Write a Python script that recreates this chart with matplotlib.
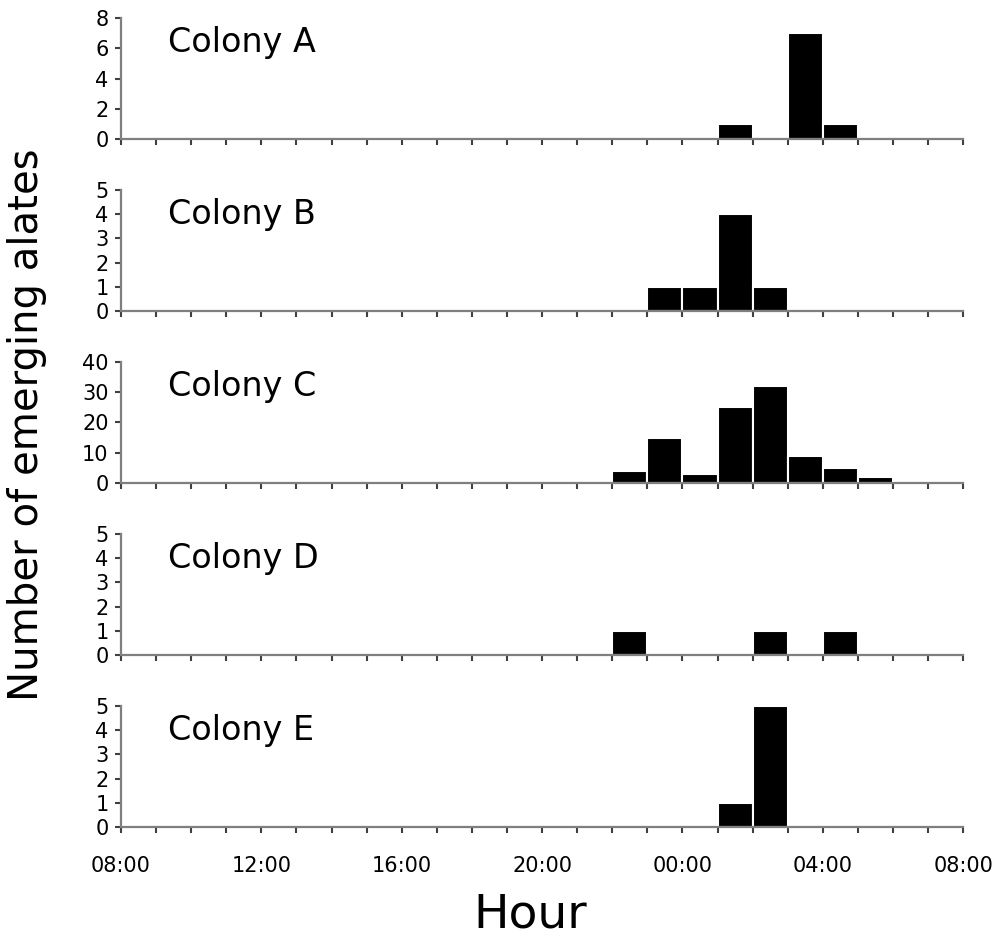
import numpy as np
import matplotlib
matplotlib.use("Agg")
import matplotlib.pyplot as plt

# hourly bins starting at 08:00
bin_hours = ['%02d:00' % ((8 + i) % 24) for i in range(24)]

colonies = ['Colony A', 'Colony B', 'Colony C', 'Colony D', 'Colony E']
# counts for bins 22:00 .. 05:00 (all other bins are zero)
night_bins = ['22:00', '23:00', '00:00', '01:00', '02:00', '03:00', '04:00', '05:00']
colony_a = [0, 0, 0, 1, 0, 7, 1, 0]
colony_b = [0, 1, 1, 4, 1, 0, 0, 0]
colony_c = [4, 15, 3, 25, 32, 9, 5, 2]
colony_d = [1, 0, 0, 0, 1, 0, 1, 0]
colony_e = [0, 0, 0, 1, 5, 0, 0, 0]
series = [colony_a, colony_b, colony_c, colony_d, colony_e]

ymax = [8, 5, 40, 5, 5]
ystep = [2, 1, 10, 1, 1]

xtick_labels = ['08:00', '12:00', '16:00', '20:00', '00:00', '04:00', '08:00']

fig = plt.figure(figsize=(9.96, 9.40), dpi=100)
bottoms = [0.8521, 0.6691, 0.4862, 0.3032, 0.1202]
grey = '#7f7f7f'

for k, name in enumerate(colonies):
    ax = fig.add_axes([0.1215, bottoms[k], 0.8455, 0.1287])
    counts = np.zeros(len(bin_hours))
    for lab, v in zip(night_bins, series[k]):
        counts[bin_hours.index(lab)] = v
    x = np.arange(len(bin_hours))
    ax.bar(x, counts, width=1.0, align='edge', color='black',
           edgecolor='white', linewidth=1.5, zorder=2)
    ax.set_xlim(0, 24)
    ax.set_ylim(0, ymax[k])
    ax.set_yticks(np.arange(0, ymax[k] + 1, ystep[k]))
    ax.set_xticks(np.arange(0, 25, 1))
    if k == 4:
        ax.set_xticks(np.arange(0, 25, 4))
        ax.set_xticks(np.arange(0, 25, 1), minor=True)
        ax.set_xticklabels(xtick_labels)
        ax.tick_params(axis='x', which='major', pad=17)
    else:
        ax.set_xticklabels([])
    for s in ['top', 'right']:
        ax.spines[s].set_visible(False)
    for s in ['left', 'bottom']:
        ax.spines[s].set_color(grey)
        ax.spines[s].set_linewidth(1.6)
        ax.spines[s].set_zorder(3)
    ax.tick_params(axis='both', which='both', direction='out', length=4,
                   width=1.5, color='#404040', labelsize=15)
    ax.tick_params(axis='y', labelsize=15, pad=5)
    ax.text(0.056, 0.80, name, transform=ax.transAxes, fontsize=24,
            va='center', ha='left')

fig.text(0.027, 0.548, 'Number of emerging alates', rotation=90,
         fontsize=29, va='center', ha='center')
fig.text(0.532, 0.027, 'Hour', fontsize=34, va='center', ha='center')

fig.savefig('out.png', dpi=100, facecolor='white')
